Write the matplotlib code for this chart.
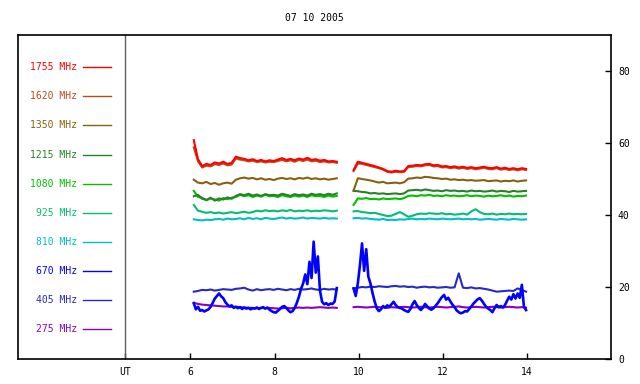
import matplotlib
matplotlib.use("Agg")
import matplotlib.pyplot as plt
import numpy as np

plt.rcParams["font.family"] = ["DejaVu Sans Mono"]

TITLE = "07 10 2005"

freqs = ["1755", "1620", "1350", "1215", "1080", "925", "810", "670", "405", "275"]
colors = ["#ff0000", "#c04818", "#886010", "#288028", "#00c000",
          "#00c070", "#00c0c0", "#0000ff", "#2828c8", "#8800c0"]

# sample windows (UT hours) for the two observing runs
run1 = (6.08, 9.48)
run2 = (9.88, 13.98)

f1755_a = [60.8, 55.5, 53.6, 54.2, 53.9, 54.6, 54.3, 54.8, 54.2, 54.5, 56.2, 55.8, 55.6, 55.2, 55.5,
           55.0, 55.3, 54.9, 55.2, 55.0, 55.4, 55.8, 55.3, 55.6, 55.2, 55.7, 55.4, 55.9, 55.3, 55.5,
           55.1, 55.3, 54.9, 55.0, 54.8]
f1755_b = [52.5, 54.8, 54.5, 54.2, 53.9, 53.6, 53.2, 52.8, 52.2, 52.0, 52.3, 52.1, 52.2, 53.6, 53.7,
           53.9, 53.8, 54.1, 54.2, 53.8, 53.9, 53.5, 53.6, 53.3, 53.5, 53.2, 53.4, 53.1, 53.3, 53.0,
           53.2, 53.4, 53.1, 53.0, 53.3, 52.9, 53.1, 52.8, 53.0, 52.7, 53.0, 52.8]

f1620_a = [58.8, 54.9, 53.2, 53.7, 53.5, 54.1, 53.9, 54.3, 53.8, 54.0, 55.7, 55.4, 55.2, 54.9, 55.1,
           54.7, 54.9, 54.6, 54.8, 54.7, 55.0, 55.3, 54.9, 55.2, 54.8, 55.3, 55.0, 55.4, 54.9, 55.1,
           54.7, 54.9, 54.6, 54.7, 54.5]
f1620_b = [52.2, 54.3, 54.2, 53.9, 53.6, 53.3, 53.0, 52.6, 52.0, 51.8, 52.0, 51.9, 52.0, 53.3, 53.4,
           53.6, 53.5, 53.8, 53.9, 53.5, 53.6, 53.2, 53.3, 53.0, 53.2, 52.9, 53.1, 52.8, 53.0, 52.7,
           52.9, 53.1, 52.8, 52.7, 53.0, 52.6, 52.8, 52.5, 52.7, 52.4, 52.7, 52.5]

f1350_a = [49.8, 49.0, 48.8, 49.2, 48.6, 48.9, 48.4, 48.8, 49.0, 48.7, 49.8, 50.2, 50.4, 50.1, 50.3,
           49.9, 50.2, 49.8, 50.0, 49.7, 50.1, 50.3, 50.0, 50.2, 49.9, 50.3, 50.1, 50.4, 50.0, 50.2,
           49.9, 50.1, 49.8, 50.0, 50.2]
f1350_b = [46.8, 50.2, 50.0, 49.8, 49.6, 49.3, 49.0, 49.2, 48.8, 48.9, 49.0, 48.8, 49.1, 50.1, 50.2,
           50.4, 50.3, 50.6, 50.5, 50.3, 50.2, 50.0, 50.1, 49.8, 49.9, 49.7, 49.8, 49.6, 49.7, 49.5,
           49.6, 49.7, 49.4, 49.5, 49.6, 49.3, 49.5, 49.4, 49.6, 49.3, 49.5, 49.6]

f1215_a = [45.2, 45.6, 44.5, 44.2, 44.8, 44.0, 44.6, 44.3, 44.9, 44.5, 45.3, 45.8, 45.5, 45.9, 45.4,
           45.7, 45.3, 45.8, 45.5, 45.6, 45.4, 45.9, 45.6, 45.3, 45.8, 45.5, 45.7, 45.4, 45.9, 45.6,
           45.8, 45.5, 45.9, 45.6, 46.0]
f1215_b = [46.7, 46.6, 46.4, 46.3, 46.0, 46.1, 45.9, 46.0, 45.8, 45.9, 46.0, 45.8, 46.0, 46.8, 46.9,
           47.0, 46.8, 47.1, 46.9, 46.7, 46.8, 46.6, 46.9, 46.7, 46.8, 46.6, 46.7, 46.5, 46.8, 46.6,
           46.7, 46.5, 46.6, 46.8, 46.5, 46.7, 46.6, 46.4, 46.7, 46.5, 46.6, 46.7]

f1080_a = [46.7, 45.0, 44.8, 44.1, 44.6, 44.3, 44.0, 44.7, 44.4, 44.8, 45.0, 45.6, 45.2, 45.5, 45.0,
           45.4, 45.1, 45.6, 45.2, 45.3, 45.0, 45.5, 45.2, 45.0, 45.4, 45.1, 45.4, 45.0, 45.5, 45.2,
           45.3, 45.0, 45.4, 45.1, 45.3]
f1080_b = [42.8, 44.6, 44.5, 44.7, 44.4, 44.5, 44.3, 44.6, 44.4, 44.5, 44.6, 44.4, 44.7, 45.3, 45.4,
           45.2, 45.5, 45.4, 45.6, 45.3, 45.4, 45.2, 45.5, 45.3, 45.4, 45.2, 45.3, 45.5, 45.2, 45.4,
           45.3, 45.1, 45.4, 45.2, 45.3, 45.5, 45.2, 45.4, 45.1, 45.3, 45.2, 45.4]

f925_a = [42.8, 41.2, 40.9, 40.6, 40.8, 40.5, 40.7, 40.4, 40.6, 40.8, 40.5, 40.7, 40.9, 40.6, 40.8,
          41.2, 41.0, 41.3, 41.1, 41.2, 41.0, 41.3, 41.1, 41.4, 41.0, 41.2, 41.1, 41.3, 41.0, 41.2,
          41.1, 41.3, 41.2, 41.0, 41.2]
f925_b = [41.0, 41.1, 40.8, 40.7, 40.5, 40.6, 40.3, 40.0, 39.7, 39.8, 40.3, 40.8, 40.2, 39.5, 39.8,
          40.2, 40.4, 40.3, 40.5, 40.4, 40.3, 40.5, 40.2, 40.3, 40.1, 40.2, 40.4, 40.1, 41.0, 41.6,
          40.8, 40.3, 40.2, 40.4, 40.1, 40.3, 40.2, 40.4, 40.2, 40.3, 40.2, 40.3]

f810_a = [38.8, 38.6, 38.5, 38.7, 38.6, 38.8, 38.9, 38.7, 39.0, 38.8, 38.9, 39.1, 38.8, 39.2, 38.9,
          39.1, 38.8, 39.2, 39.0, 38.9, 39.1, 39.3, 39.0, 39.2, 39.0, 39.1, 39.3, 39.0, 39.2, 39.1,
          39.0, 39.2, 39.0, 39.1, 39.0]
f810_b = [39.1, 39.2, 39.0, 39.1, 38.9, 38.8, 38.7, 38.9, 38.6, 38.7, 38.6, 38.8, 38.7, 38.9, 39.0,
          38.8, 38.9, 38.8, 39.0, 38.9, 38.8, 39.0, 38.9, 38.8, 38.9, 39.0, 38.8, 38.9, 38.8, 38.9,
          38.7, 38.8, 38.9, 38.8, 38.7, 38.9, 38.8, 38.7, 38.9, 38.8, 38.7, 38.8]

f670_a = [15.5, 13.8, 14.5, 13.4, 13.6, 13.2, 13.5, 13.8, 14.5, 15.6, 16.8, 17.5, 18.2, 17.4, 16.9,
          15.8, 15.1, 14.6, 14.9, 14.2, 14.5, 14.1, 14.4, 13.9, 14.3, 14.0, 14.2, 13.8, 14.1, 14.0,
          14.3, 13.9, 14.2, 14.4, 14.0, 14.3, 13.7, 13.3, 13.0, 12.9, 13.4, 13.9, 14.5, 14.7, 14.2,
          13.5, 13.0, 13.3, 14.2, 15.6, 17.3, 19.5, 21.0, 23.5, 20.8, 27.0, 22.5, 32.6, 24.0, 28.5,
          19.0, 15.9, 15.2, 15.5, 15.0, 15.4, 15.3, 16.0, 19.7]
f670_b = [19.6, 17.5, 21.0, 26.0, 32.1, 24.5, 30.5, 22.9, 21.0, 18.3, 16.0, 14.1, 13.3, 13.8, 14.7,
          14.3, 14.9, 14.5, 15.2, 15.9, 15.0, 14.4, 14.2, 14.0, 13.6, 13.3, 13.1, 13.9, 15.2, 16.1,
          15.0, 14.2, 13.6, 14.3, 15.3, 14.6, 14.0, 13.7, 14.1, 14.8, 15.5, 16.4, 17.2, 17.8, 16.5,
          17.0, 16.0, 15.1, 14.4, 13.5, 13.0, 12.7, 12.9, 13.3, 13.2, 13.9, 14.6, 15.4, 16.0, 16.6,
          16.9, 16.2, 15.3, 14.5, 14.0, 13.6, 13.0, 14.1, 15.0, 14.4, 14.7, 14.3, 15.0, 16.2, 17.3,
          16.5, 18.0, 16.8, 18.2, 17.0, 20.6, 14.5, 13.6]

f405_a = [18.7, 18.9, 19.2, 19.1, 19.3, 19.0, 19.2, 19.4, 19.3, 19.2, 19.5, 19.6, 19.8, 19.3, 19.0,
          19.4, 19.1, 19.3, 19.4, 19.2, 19.5, 19.3, 19.1, 19.4, 19.2, 19.5, 19.3, 19.4, 19.6, 19.3,
          19.2, 19.5, 19.3, 19.4, 19.3]
f405_b = [19.6, 19.8, 20.0, 19.9, 20.1, 20.0, 20.2, 20.1, 20.0, 20.2, 20.3, 20.1, 20.2, 20.0, 20.1,
          19.8, 20.0, 20.1, 19.9, 20.0, 19.8, 19.9, 20.0, 19.8, 19.9, 23.8, 19.8, 19.7, 19.9, 19.6,
          19.7, 19.5, 19.3, 19.0, 18.7, 18.8, 18.9, 19.0, 18.9, 19.6, 19.2, 18.7]

f275_a = [15.6, 15.3, 15.1, 15.0, 14.9, 14.8, 14.7, 14.6, 14.6, 14.5, 14.5, 14.4, 14.3, 14.2, 14.2,
          14.1, 14.2, 14.1, 14.2, 14.1, 14.0, 14.1, 14.2, 14.1, 14.2, 14.3, 14.2, 14.3, 14.2, 14.3,
          14.4, 14.3, 14.2, 14.3, 14.2]
f275_b = [14.4, 14.5, 14.4, 14.3, 14.4, 14.5, 14.4, 14.3, 14.2, 14.4, 14.3, 14.4, 14.5, 14.4, 14.3,
          14.4, 14.5, 14.4, 14.3, 14.4, 14.5, 14.4, 14.3, 14.4, 14.5, 14.6, 14.4, 14.3, 14.4, 14.5,
          14.4, 14.3, 14.4, 14.5, 14.4, 14.3, 14.4, 14.5, 14.4, 14.3, 14.4, 14.3]

series = {
    "1755": (f1755_a, f1755_b),
    "1620": (f1620_a, f1620_b),
    "1350": (f1350_a, f1350_b),
    "1215": (f1215_a, f1215_b),
    "1080": (f1080_a, f1080_b),
    "925": (f925_a, f925_b),
    "810": (f810_a, f810_b),
    "670": (f670_a, f670_b),
    "405": (f405_a, f405_b),
    "275": (f275_a, f275_b),
}

xticks = [6, 8, 10, 12, 14]
yticks = [0, 20, 40, 60, 80]
ut_pos = 4.45

fig = plt.figure(figsize=(6.4, 3.84), dpi=100)
ax = fig.add_axes([18 / 640, 1 - 359 / 384, 593 / 640, 324 / 384])
ax.set_xlim(1.9, 16.0)
ax.set_ylim(0, 90)

# stacking roughly as in the original plot
draw_order = ["810", "925", "1080", "1215", "1350", "1620", "1755", "275", "405", "670"]
for name in draw_order:
    col = colors[freqs.index(name)]
    seg_a, seg_b = series[name]
    lw = 1.9 if name == "670" else 1.5
    ax.plot(np.linspace(*run1, len(seg_a)), seg_a, color=col, lw=lw)
    ax.plot(np.linspace(*run2, len(seg_b)), seg_b, color=col, lw=lw)

# legend column on the left
for k, (name, col) in enumerate(zip(freqs, colors)):
    yy = 81.1 - 8.1 * k
    ax.text(3.31, yy, f"{name} MHz", color=col, fontsize=7, ha="right", va="center")
    ax.plot([3.45, 4.11], [yy, yy], color=col, lw=1)

ax.axvline(ut_pos, color="#606060", lw=1)

ax.set_xticks([ut_pos] + xticks)
ax.set_xticklabels(["UT"] + [str(v) for v in xticks])
ax.yaxis.tick_right()
ax.set_yticks(yticks)
ax.set_yticklabels([str(v) for v in yticks])
ax.tick_params(axis="both", direction="in", length=4, width=1, labelsize=7, pad=5)
ax.tick_params(axis="x", pad=6)
for sp in ax.spines.values():
    sp.set_linewidth(1.2)

fig.text(314 / 640, 1 - 18 / 384, TITLE, ha="center", va="center", fontsize=7)

fig.savefig("out.png", dpi=100)
